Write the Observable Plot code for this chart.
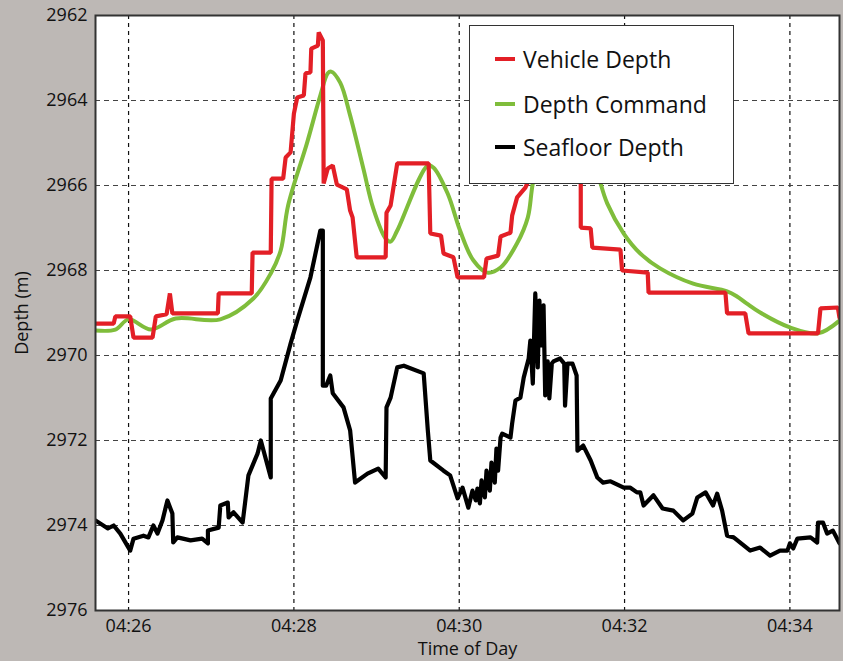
<!DOCTYPE html>
<html>
<head>
<meta charset="utf-8">
<script src="https://cdn.jsdelivr.net/npm/d3@7"></script>
<script src="https://cdn.jsdelivr.net/npm/@observablehq/plot@0.6"></script>
<style>
  html, body { margin: 0; padding: 0; background: #bdb8b5; }
  #wrap { position: relative; width: 843px; height: 661px; overflow: hidden; background: #bdb8b5; font-family: "Open Sans", "Noto Sans", sans-serif; }
  #legend { position: absolute; left: 469px; top: 25px; width: 263px; height: 157px; background: #fff; border: 1.5px solid #333; }
  .row { position: absolute; left: 25px; height: 30px; display: flex; align-items: center; font-size: 23px; color: #111; }
  .sw { display: inline-block; width: 20px; height: 4px; margin-right: 8px; }
</style>
</head>
<body>
<div id="wrap"></div>
<script>
// Time in decimal minutes after 04:00, depth in metres
const vehicleDepth = [
  [25.60,2969.25],[25.82,2969.25],[25.84,2969.08],[26.02,2969.08],[26.06,2969.58],[26.29,2969.58],
  [26.33,2969.08],[26.46,2969.03],[26.50,2968.54],[26.53,2969.01],[27.08,2969.01],[27.09,2968.54],
  [27.49,2968.54],[27.50,2967.58],[27.72,2967.58],[27.73,2965.84],[27.87,2965.84],[27.90,2965.34],
  [27.96,2965.22],[28.00,2964.31],[28.04,2963.93],[28.12,2963.88],[28.14,2963.36],[28.20,2963.34],
  [28.21,2962.78],[28.29,2962.71],[28.30,2962.40],[28.35,2962.59],[28.36,2965.95],[28.41,2965.60],
  [28.47,2965.53],[28.52,2965.98],[28.64,2966.09],[28.68,2966.59],[28.71,2966.75],[28.76,2967.69],
  [29.11,2967.69],[29.12,2966.64],[29.17,2966.47],[29.25,2965.48],[29.63,2965.48],[29.65,2967.13],
  [29.78,2967.18],[29.81,2967.60],[29.93,2967.69],[29.98,2968.16],[30.30,2968.16],[30.33,2967.72],
  [30.47,2967.65],[30.50,2967.20],[30.62,2967.11],[30.64,2966.71],[30.70,2966.28],[30.80,2966.05],
  [30.84,2965.88],[30.90,2964.50],[31.41,2964.50],[31.47,2965.95],[31.47,2966.99],[31.59,2967.01],
  [31.61,2967.46],[31.95,2967.51],[31.97,2968.00],[32.28,2968.05],[32.29,2968.52],[33.22,2968.52],
  [33.24,2969.01],[33.46,2969.01],[33.50,2969.48],[34.34,2969.48],[34.37,2968.89],[34.58,2968.87],
  [34.60,2969.11]
];
const depthCommand = [
  [25.60,2969.41],[25.84,2969.39],[26.00,2969.15],[26.27,2969.39],[26.57,2969.13],[27.11,2969.15],
  [27.51,2968.66],[27.72,2968.07],[27.84,2967.53],[27.93,2966.47],[28.16,2964.99],[28.32,2963.88],
  [28.41,2963.36],[28.45,2963.32],[28.56,2963.58],[28.68,2964.35],[28.84,2965.60],[28.96,2966.54],
  [29.11,2967.25],[29.17,2967.32],[29.25,2967.06],[29.62,2965.53],[29.69,2965.58],[29.86,2966.19],
  [30.01,2967.06],[30.17,2967.76],[30.34,2968.05],[30.50,2967.93],[30.70,2967.36],[30.83,2966.75],
  [30.89,2965.95],[31.04,2964.70],[31.30,2964.35],[31.56,2964.70],[31.71,2965.95],[31.79,2966.42],
  [31.99,2967.13],[32.19,2967.60],[32.43,2967.95],[32.83,2968.31],[33.24,2968.49],[33.36,2968.61],
  [33.48,2968.78],[33.64,2968.99],[34.00,2969.34],[34.34,2969.48],[34.60,2969.18]
];
const seafloorDepth = [
  [25.60,2973.88],[25.75,2974.07],[25.82,2974.00],[25.90,2974.19],[26.02,2974.59],[26.06,2974.31],
  [26.18,2974.24],[26.24,2974.28],[26.30,2974.00],[26.35,2974.19],[26.41,2973.88],[26.47,2973.41],
  [26.53,2973.72],[26.54,2974.40],[26.59,2974.28],[26.75,2974.35],[26.89,2974.31],[26.96,2974.42],
  [26.96,2974.12],[27.09,2974.05],[27.11,2973.53],[27.20,2973.46],[27.21,2973.81],[27.27,2973.69],
  [27.38,2973.93],[27.45,2972.82],[27.56,2972.31],[27.60,2972.00],[27.72,2972.87],[27.72,2971.01],
  [27.84,2970.59],[27.96,2969.72],[28.04,2969.18],[28.20,2968.16],[28.32,2967.06],[28.35,2967.06],
  [28.35,2970.71],[28.39,2970.71],[28.44,2970.47],[28.47,2970.89],[28.60,2971.22],[28.68,2971.76],
  [28.74,2972.99],[28.89,2972.78],[29.02,2972.66],[29.11,2972.87],[29.12,2971.22],[29.17,2970.99],
  [29.25,2970.28],[29.33,2970.24],[29.57,2970.42],[29.62,2971.76],[29.65,2972.47],[29.81,2972.71],
  [29.89,2972.82],[29.98,2973.36],[30.04,2973.11],[30.11,2973.58],[30.16,2973.18],[30.20,2973.41],
  [30.22,2973.13],[30.25,2973.48],[30.27,2972.94],[30.31,2973.34],[30.33,2972.71],[30.37,2973.18],
  [30.39,2972.52],[30.43,2972.99],[30.45,2972.19],[30.47,2972.71],[30.50,2971.93],[30.52,2971.84],
  [30.62,2971.93],[30.64,2971.60],[30.68,2971.06],[30.74,2970.99],[30.78,2970.52],[30.84,2970.07],
  [30.86,2969.65],[30.89,2970.66],[30.92,2968.54],[30.95,2970.28],[30.97,2968.71],[30.99,2969.76],
  [31.02,2968.82],[31.04,2970.94],[31.07,2970.14],[31.09,2971.01],[31.12,2970.19],[31.14,2970.14],
  [31.22,2970.07],[31.27,2970.19],[31.28,2971.18],[31.31,2970.19],[31.37,2970.19],[31.42,2970.47],
  [31.43,2972.24],[31.50,2972.12],[31.59,2972.47],[31.67,2972.87],[31.74,2972.99],[31.83,2972.96],
  [31.99,2973.11],[32.07,2973.11],[32.15,2973.22],[32.19,2973.22],[32.23,2973.53],[32.35,2973.29],
  [32.46,2973.60],[32.59,2973.65],[32.71,2973.88],[32.82,2973.72],[32.88,2973.34],[32.98,2973.22],
  [33.07,2973.53],[33.12,2973.25],[33.18,2973.65],[33.24,2974.24],[33.32,2974.28],[33.52,2974.59],
  [33.64,2974.52],[33.76,2974.71],[33.88,2974.59],[33.97,2974.59],[34.00,2974.42],[34.04,2974.54],
  [34.09,2974.31],[34.25,2974.28],[34.33,2974.40],[34.34,2973.93],[34.40,2973.93],[34.45,2974.19],
  [34.52,2974.12],[34.60,2974.42]
];
const xTicks = [26, 28, 30, 32, 34];
const yTicks = [2962, 2964, 2966, 2968, 2970, 2972, 2974, 2976];
const seriesNames = ["Vehicle Depth", "Depth Command", "Seafloor Depth"];
const seriesColors = ["#e31f26", "#7fbd3b", "#000000"];

const fmtTime = d => "04:" + String(d).padStart(2, "0");

const chart = Plot.plot({
  width: 843,
  height: 661,
  marginLeft: 95,
  marginTop: 15,
  marginRight: 4,
  marginBottom: 51,
  style: { background: "transparent", fontSize: "18px", fontFamily: "'Open Sans', 'Noto Sans', sans-serif", color: "#111" },
  x: { domain: [25.6, 34.6] },
  y: { domain: [2962, 2976], reverse: true },
  marks: [
    Plot.frame({ fill: "white", stroke: "none" }),
    Plot.gridX(xTicks, { stroke: "#111", strokeOpacity: 1, strokeDasharray: "4,4", strokeWidth: 1.2 }),
    Plot.gridY(yTicks, { stroke: "#444", strokeOpacity: 1, strokeDasharray: "5,4", strokeWidth: 1.2 }),
    Plot.line(seafloorDepth, { x: d => d[0], y: d => d[1], stroke: seriesColors[2], strokeWidth: 4.2, clip: true }),
    Plot.line(depthCommand, { x: d => d[0], y: d => d[1], stroke: seriesColors[1], strokeWidth: 4, curve: "catmull-rom", clip: true }),
    Plot.line(vehicleDepth, { x: d => d[0], y: d => d[1], stroke: seriesColors[0], strokeWidth: 4.2, strokeLinejoin: "miter", clip: true }),
    Plot.frame({ stroke: "#333", strokeWidth: 2 }),
    Plot.axisX(xTicks, { tickFormat: fmtTime, tickSize: 0, tickPadding: 9, label: "Time of Day", labelAnchor: "center", labelOffset: 44, labelArrow: "none", fontSize: 18 }),
    Plot.axisY(yTicks, { tickFormat: d => String(d), tickSize: 0, tickPadding: 8, label: "Depth (m)", labelAnchor: "center", labelOffset: 80, labelArrow: "none", fontSize: 18 })
  ]
});
const wrap = document.getElementById("wrap");
wrap.appendChild(chart);

const legend = document.createElement("div");
legend.id = "legend";
const rowTops = [18, 63, 106];
seriesNames.forEach((name, i) => {
  const row = document.createElement("div");
  row.className = "row";
  row.style.top = rowTops[i] + "px";
  const sw = document.createElement("span");
  sw.className = "sw";
  sw.style.background = seriesColors[i];
  row.appendChild(sw);
  row.appendChild(document.createTextNode(name));
  legend.appendChild(row);
});
wrap.appendChild(legend);
</script>
</body>
</html>
